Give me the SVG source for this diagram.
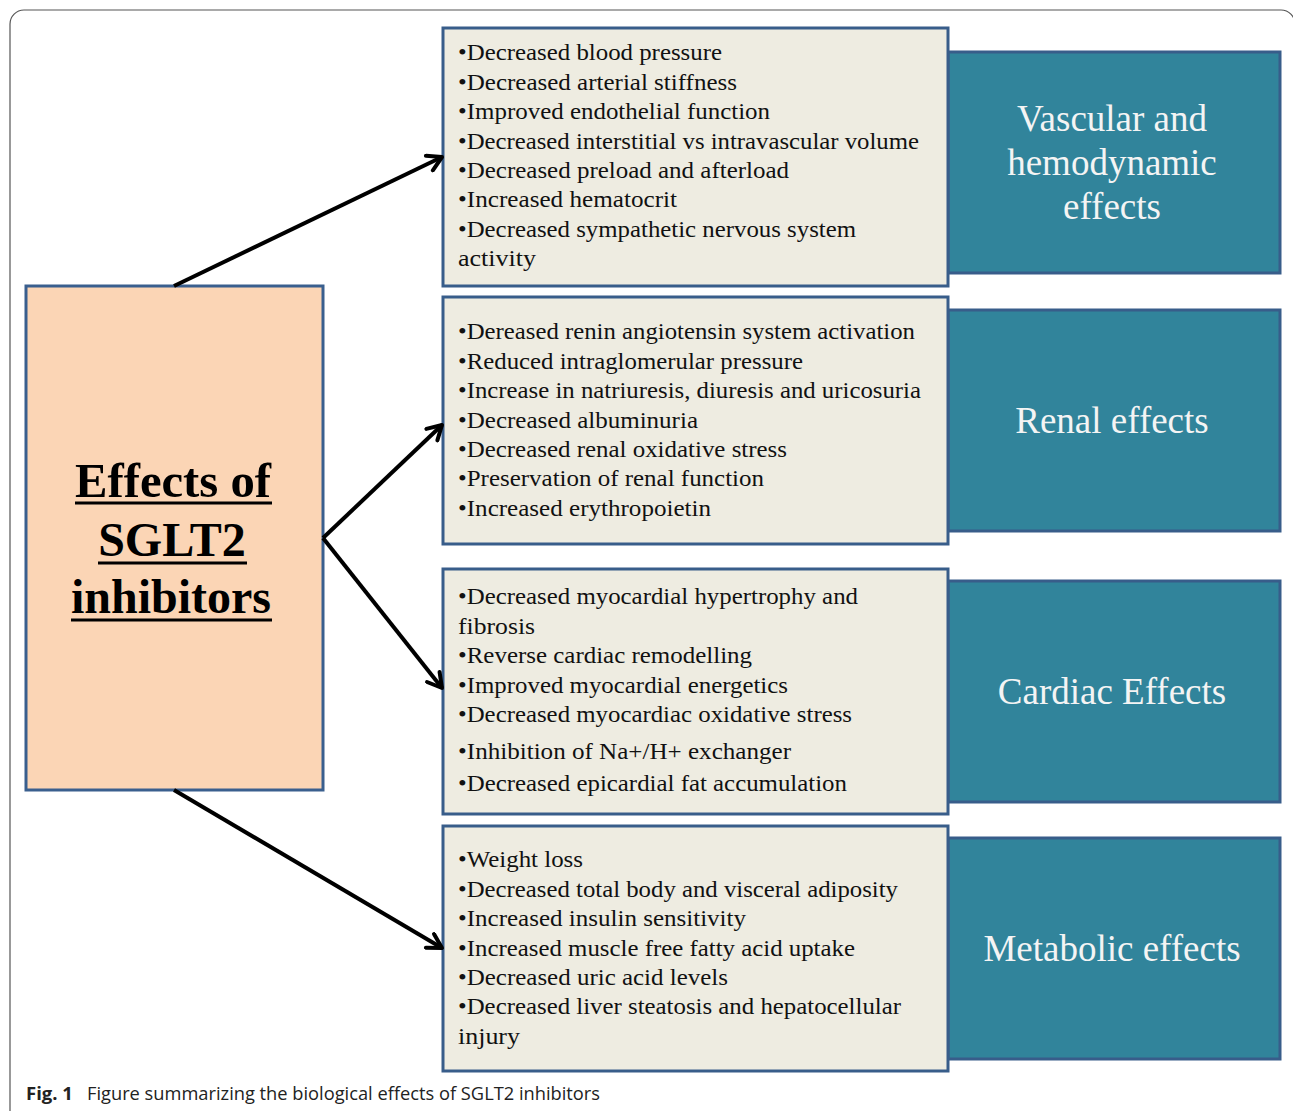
<svg xmlns="http://www.w3.org/2000/svg" width="1293" height="1111" viewBox="0 0 1293 1111">
<defs>
<marker id="arr" viewBox="0 0 20 20" refX="17" refY="10" markerWidth="20" markerHeight="20" markerUnits="userSpaceOnUse" orient="auto">
<path d="M3,2 L17,10 L3,18" fill="none" stroke="#000" stroke-width="4" stroke-linecap="round" stroke-linejoin="round"/>
</marker>
</defs>
<style>
.frame{fill:none;stroke:#555;stroke-width:1.2}
.main{fill:#FBD5B5;stroke:#3A5F8E;stroke-width:3}
.list{fill:#EEECE1;stroke:#385D8A;stroke-width:3}
.cat{fill:#31849B;stroke:#385D8A;stroke-width:3}
.li{font-family:"Liberation Serif","Times New Roman",serif;font-size:23.5px;fill:#111}
.ct{font-family:"Liberation Serif","Times New Roman",serif;font-size:37px;fill:#F4F4F4;text-anchor:middle}
.tt{font-family:"Liberation Serif","Times New Roman",serif;font-size:48px;font-weight:bold;fill:#000;text-anchor:middle}
.ul{stroke:#000;stroke-width:3}
.conn line{stroke:#000;stroke-width:4;marker-end:url(#arr)}
.cap{font-family:"Open Sans","Noto Sans",sans-serif;font-size:18.5px;fill:#222}
</style>
<rect class="frame" x="10" y="10" width="1285" height="1130" rx="14"/>

<g id="main">
<rect class="main" x="26" y="286" width="297" height="504"/>
<text class="tt" x="173" y="497" textLength="196" lengthAdjust="spacingAndGlyphs">Effects of</text>
<line class="ul" x1="75" y1="503" x2="272" y2="503"/>
<text class="tt" x="172" y="556">SGLT2</text>
<line class="ul" x1="98" y1="563" x2="247" y2="563"/>
<text class="tt" x="171" y="613">inhibitors</text>
<line class="ul" x1="71" y1="620" x2="272" y2="620"/>
</g>

<g id="vascular">
<rect class="cat" x="948" y="52" width="332" height="221"/>
<rect class="list" x="443" y="28" width="505" height="258"/>
<text class="li" x="458" y="60" textLength="264" lengthAdjust="spacingAndGlyphs">•Decreased blood pressure</text>
<text class="li" x="458" y="90" textLength="279" lengthAdjust="spacingAndGlyphs">•Decreased arterial stiffness</text>
<text class="li" x="458" y="119" textLength="312" lengthAdjust="spacingAndGlyphs">•Improved endothelial function</text>
<text class="li" x="458" y="149" textLength="461" lengthAdjust="spacingAndGlyphs">•Decreased interstitial vs intravascular volume</text>
<text class="li" x="458" y="178" textLength="331" lengthAdjust="spacingAndGlyphs">•Decreased preload and afterload</text>
<text class="li" x="458" y="207" textLength="219" lengthAdjust="spacingAndGlyphs">•Increased hematocrit</text>
<text class="li" x="458" y="237" textLength="398" lengthAdjust="spacingAndGlyphs">•Decreased sympathetic nervous system</text>
<text class="li" x="458" y="266" textLength="78" lengthAdjust="spacingAndGlyphs">activity</text>
<text class="ct" x="1112" y="131">Vascular and</text>
<text class="ct" x="1112" y="175">hemodynamic</text>
<text class="ct" x="1112" y="219">effects</text>
</g>

<g id="renal">
<rect class="cat" x="948" y="310" width="332" height="221"/>
<rect class="list" x="443" y="297" width="505" height="247"/>
<text class="li" x="458" y="339" textLength="457" lengthAdjust="spacingAndGlyphs">•Dereased renin angiotensin system activation</text>
<text class="li" x="458" y="369" textLength="345" lengthAdjust="spacingAndGlyphs">•Reduced intraglomerular pressure</text>
<text class="li" x="458" y="398" textLength="463" lengthAdjust="spacingAndGlyphs">•Increase in natriuresis, diuresis and uricosuria</text>
<text class="li" x="458" y="428" textLength="240" lengthAdjust="spacingAndGlyphs">•Decreased albuminuria</text>
<text class="li" x="458" y="457" textLength="329" lengthAdjust="spacingAndGlyphs">•Decreased renal oxidative stress</text>
<text class="li" x="458" y="486" textLength="306" lengthAdjust="spacingAndGlyphs">•Preservation of renal function</text>
<text class="li" x="458" y="516" textLength="253" lengthAdjust="spacingAndGlyphs">•Increased erythropoietin</text>
<text class="ct" x="1112" y="433">Renal effects</text>
</g>

<g id="cardiac">
<rect class="cat" x="948" y="581" width="332" height="221"/>
<rect class="list" x="443" y="569" width="505" height="245"/>
<text class="li" x="458" y="604" textLength="400" lengthAdjust="spacingAndGlyphs">•Decreased myocardial hypertrophy and</text>
<text class="li" x="458" y="634" textLength="77" lengthAdjust="spacingAndGlyphs">fibrosis</text>
<text class="li" x="458" y="663" textLength="294" lengthAdjust="spacingAndGlyphs">•Reverse cardiac remodelling</text>
<text class="li" x="458" y="693" textLength="330" lengthAdjust="spacingAndGlyphs">•Improved myocardial energetics</text>
<text class="li" x="458" y="722" textLength="394" lengthAdjust="spacingAndGlyphs">•Decreased myocardiac oxidative stress</text>
<text class="li" x="458" y="759" textLength="333" lengthAdjust="spacingAndGlyphs">•Inhibition of Na+/H+ exchanger</text>
<text class="li" x="458" y="791" textLength="389" lengthAdjust="spacingAndGlyphs">•Decreased epicardial fat accumulation</text>
<text class="ct" x="1112" y="704">Cardiac Effects</text>
</g>

<g id="metabolic">
<rect class="cat" x="948" y="838" width="332" height="221"/>
<rect class="list" x="443" y="826" width="505" height="245"/>
<text class="li" x="458" y="867" textLength="125" lengthAdjust="spacingAndGlyphs">•Weight loss</text>
<text class="li" x="458" y="897" textLength="440" lengthAdjust="spacingAndGlyphs">•Decreased total body and visceral adiposity</text>
<text class="li" x="458" y="926" textLength="288" lengthAdjust="spacingAndGlyphs">•Increased insulin sensitivity</text>
<text class="li" x="458" y="956" textLength="397" lengthAdjust="spacingAndGlyphs">•Increased muscle free fatty acid uptake</text>
<text class="li" x="458" y="985" textLength="270" lengthAdjust="spacingAndGlyphs">•Decreased uric acid levels</text>
<text class="li" x="458" y="1014" textLength="443" lengthAdjust="spacingAndGlyphs">•Decreased liver steatosis and hepatocellular</text>
<text class="li" x="458" y="1044" textLength="62" lengthAdjust="spacingAndGlyphs">injury</text>
<text class="ct" x="1112" y="961">Metabolic effects</text>
</g>

<g id="connectors" class="conn">
<line x1="174" y1="286" x2="442" y2="157"/>
<line x1="323" y1="538" x2="442" y2="425"/>
<line x1="323" y1="538" x2="442" y2="688"/>
<line x1="174" y1="790" x2="442" y2="948"/>
</g>

<g id="caption">
<text class="cap" x="26" y="1100"><tspan font-weight="bold">Fig. 1</tspan><tspan x="87" textLength="513" lengthAdjust="spacingAndGlyphs">Figure summarizing the biological effects of SGLT2 inhibitors</tspan></text>
</g>
</svg>
